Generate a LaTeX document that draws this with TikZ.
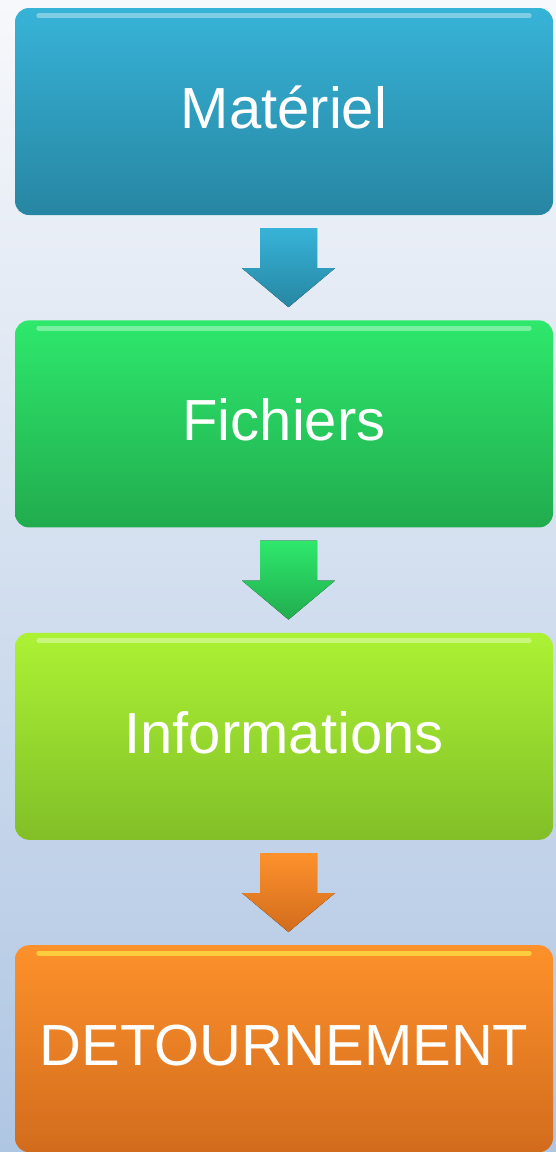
\documentclass[tikz,border=0pt]{standalone}
\usepackage{fontspec}
\setmainfont{Liberation Sans}
\usetikzlibrary{positioning, calc}

\definecolor{bgtop}{HTML}{F7F8FB}
\definecolor{bgbot}{HTML}{AFC6E3}
\definecolor{blueA}{HTML}{37B3D8}
\definecolor{blueB}{HTML}{2786A2}
\definecolor{greenA}{HTML}{2EE86C}
\definecolor{greenB}{HTML}{21AC4E}
\definecolor{limeA}{HTML}{ACF234}
\definecolor{limeB}{HTML}{82BF28}
\definecolor{orangeA}{HTML}{FD912B}
\definecolor{orangeB}{HTML}{D26C1D}

% block arrow from one box down to the next
\newcommand{\blockarrow}[3]{%
  \fill[top color=#3A, bottom color=#3B]
    ($(#1.south)+(-24,13)$) -- ($(#1.south)+(33,13)$) -- ($(#1.south)+(33,53)$)
    -- ($(#1.south)+(51,53)$) -- ($(#2.north)+(4.5,-13)$)
    -- ($(#1.south)+(-42,53)$) -- ($(#1.south)+(-24,53)$) -- cycle;
}

\begin{document}
\begin{tikzpicture}[x=1pt,y=-1pt,
  stepbox/.style={rounded corners=14pt, minimum width=538pt, minimum height=207pt,
    inner sep=0pt, text=white, font=\fontsize{58}{62}\selectfont,
    text height=42pt, text depth=8pt},
  gloss/.style={line width=5pt, line cap=round, opacity=0.6}
]
  % background
  \fill[top color=bgtop, bottom color=bgbot] (0,0) rectangle (556,1152);
  \useasboundingbox (0,0) rectangle (556,1152);

  % boxes
  \node[stepbox, top color=blueA, bottom color=blueB] (mat) at (284,111.5) {Matériel};
  \node[stepbox, top color=greenA, bottom color=greenB, below=105pt of mat] (fic) {Fichiers};
  \node[stepbox, top color=limeA, bottom color=limeB, below=105pt of fic] (inf) {Informations};
  \node[stepbox, top color=orangeA, bottom color=orangeB, below=105pt of inf] (det) {DETOURNEMENT};

  % top highlights
  \draw[gloss, blueA!40!white] ($(mat.north west)+(24,8)$) -- ($(mat.north east)+(-24,8)$);
  \draw[gloss, greenA!40!white] ($(fic.north west)+(24,8)$) -- ($(fic.north east)+(-24,8)$);
  \draw[gloss, limeA!40!white] ($(inf.north west)+(24,8)$) -- ($(inf.north east)+(-24,8)$);
  \draw[gloss, yellow!70!white] ($(det.north west)+(24,8)$) -- ($(det.north east)+(-24,8)$);

  % arrows
  \blockarrow{mat}{fic}{blue}
  \blockarrow{fic}{inf}{green}
  \blockarrow{inf}{det}{orange}
\end{tikzpicture}
\end{document}
